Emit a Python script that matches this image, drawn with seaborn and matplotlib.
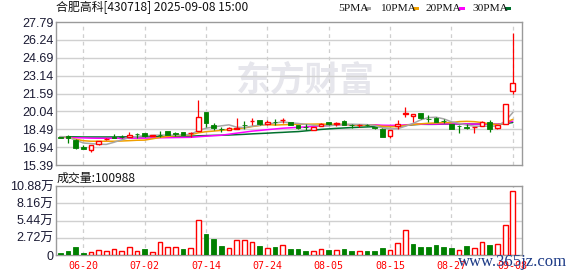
import numpy as np
import pandas as pd
import matplotlib
matplotlib.use("Agg")
import matplotlib.pyplot as plt
from matplotlib.patches import Rectangle
import seaborn as sns

# ---------------- data ----------------
title = "合肥高科[430718] 2025-09-08 15:00"
vol_title = "成交量:100988"

dates = ["06-17", "06-18", "06-19", "06-20", "06-23", "06-24", "06-25", "06-26", "06-27", "06-30",
         "07-01", "07-02", "07-03", "07-04", "07-07", "07-08", "07-09", "07-10", "07-11", "07-14",
         "07-15", "07-16", "07-17", "07-18", "07-21", "07-22", "07-23", "07-24", "07-25", "07-28",
         "07-29", "07-30", "07-31", "08-01", "08-04", "08-05", "08-06", "08-07", "08-08", "08-11",
         "08-12", "08-13", "08-14", "08-15", "08-18", "08-19", "08-20", "08-21", "08-22", "08-25",
         "08-26", "08-27", "08-28", "08-29", "09-01", "09-02", "09-03", "09-04", "09-05", "09-08"]

open_ = [17.78, 17.94, 17.60, 16.92, 16.73, 17.25, 17.62, 17.78, 17.85, 17.83,
         18.12, 18.14, 17.93, 18.00, 18.32, 18.13, 18.23, 18.15, 18.35, 20.00,
         18.87, 18.52, 18.46, 18.55, 18.88, 19.20, 19.27, 18.92, 19.10, 19.26,
         19.15, 18.87, 18.71, 18.46, 18.81, 19.15, 18.97, 19.20, 18.88, 18.85,
         18.87, 18.65, 18.55, 17.91, 18.75, 19.79, 19.67, 19.87, 19.38, 19.50,
         19.23, 18.92, 18.77, 18.65, 18.68, 18.78, 19.15, 18.63, 18.98, 21.80]
high = [17.82, 17.96, 17.68, 17.10, 17.12, 17.50, 17.70, 18.11, 18.00, 18.29,
        18.13, 18.15, 17.97, 18.34, 18.33, 18.26, 18.24, 18.21, 21.00, 20.02,
        19.07, 18.69, 18.66, 19.44, 19.21, 19.44, 19.28, 19.27, 19.36, 19.44,
        19.16, 18.88, 18.92, 18.72, 19.00, 19.16, 19.10, 19.32, 18.98, 18.98,
        18.98, 18.68, 18.57, 18.42, 19.27, 20.43, 19.82, 19.88, 19.73, 19.52,
        19.36, 18.93, 18.87, 18.92, 18.70, 19.20, 19.27, 18.88, 20.68, 26.87]
low = [17.70, 17.33, 16.80, 16.74, 16.56, 17.13, 17.58, 17.70, 17.75, 17.80,
       17.77, 17.85, 17.92, 17.83, 17.95, 17.94, 17.98, 17.83, 18.30, 18.72,
       18.40, 18.29, 18.43, 18.53, 18.55, 18.84, 18.90, 18.90, 18.84, 19.00,
       18.85, 18.55, 18.43, 18.44, 18.78, 18.85, 18.78, 18.85, 18.63, 18.69,
       18.73, 18.55, 17.83, 17.77, 18.52, 19.56, 19.15, 19.40, 19.15, 19.10,
       19.07, 18.50, 18.20, 18.55, 18.17, 18.75, 18.29, 18.49, 18.95, 21.56]
close = [17.75, 17.77, 16.84, 16.77, 17.10, 17.48, 17.68, 17.76, 17.83, 18.03,
         18.10, 17.88, 17.95, 17.98, 17.97, 18.10, 18.00, 18.20, 19.59, 19.01,
         18.63, 18.50, 18.63, 18.58, 18.85, 19.23, 18.92, 19.09, 19.08, 19.29,
         18.87, 18.64, 18.69, 18.69, 18.98, 18.92, 19.00, 18.87, 18.86, 18.88,
         18.85, 18.62, 17.85, 18.40, 18.98, 19.93, 19.79, 19.44, 19.35, 19.16,
         19.21, 18.52, 18.74, 18.63, 18.70, 19.15, 18.55, 18.86, 20.66, 22.49]
volume = [3700, 6300, 13100, 3700, 4700, 7900, 6300, 9500, 6300, 12600,
          6300, 9500, 4200, 20500, 12600, 12600, 9500, 11000, 55200, 33100,
          25800, 14200, 11000, 23700, 23700, 20000, 14200, 11000, 13100, 15800,
          9500, 9500, 6300, 5800, 8900, 7900, 7400, 9500, 6300, 5800,
          6300, 6300, 11000, 7400, 18400, 38900, 17300, 13100, 13100, 15800,
          13100, 11600, 7400, 14200, 11000, 20500, 15800, 17300, 46800, 100988]
# volume bar colour: R = up, G = down
vol_dir = "GGGGRRRRRRRGRRRRGRRGGGRRRRGRGRGGGRRGRGGRGGGRRRGGGGGGRGRRGRRR"

# moving-average values at the start of the window (they depend on earlier,
# unseen sessions)
ma5_head = [17.85, 17.82, 17.55, 17.30]
ma10_head = [17.83, 17.80, 17.62, 17.50, 17.45, 17.45, 17.45, 17.45, 17.47]
ma20_head = [17.78, 17.77, 17.75, 17.74, 17.72, 17.71, 17.71, 17.71, 17.71, 17.71,
             17.72, 17.72, 17.73, 17.75, 17.76, 17.77, 17.78, 17.79, 17.84]
ma30_head = [17.84, 17.84, 17.83, 17.82, 17.82, 17.82, 17.82, 17.82, 17.83, 17.83,
             17.84, 17.84, 17.85, 17.86, 17.87, 17.88, 17.89, 17.89, 17.92, 17.94,
             17.96, 17.97, 17.99, 18.02, 18.05, 18.09, 18.12, 18.15, 18.19]

tick_labels = ["06-20", "07-02", "07-14", "07-24", "08-05", "08-15", "08-27", "09-08"]
price_ticks = [15.39, 16.94, 18.49, 20.04, 21.59, 23.14, 24.69, 26.24, 27.79]
vol_ticks = [0, 27200, 54400, 81600, 108800]
vol_tick_labels = ["0", "2.72万", "5.44万", "8.16万", "10.88万"]
ma_windows = [5, 10, 20, 30]
ma_heads = [ma5_head, ma10_head, ma20_head, ma30_head]
ma_names = ["5PMA", "10PMA", "20PMA", "30PMA"]
ma_colors = ["#a6a6a6", "#f0a000", "#ff00ff", "#00702e"]

# ---------------- style ----------------
sns.set_theme(style="white")
plt.rcParams["font.family"] = ["Liberation Sans", "Noto Sans CJK SC", "DejaVu Sans"]

RED = "#ff0000"
GREEN = "#008000"
GRID = "#d0d0d0"
FRAME = "#9a9a9a"
TXT = "#1a1a33"

W, H = 578, 276
fig = plt.figure(figsize=(W / 100, H / 100), dpi=100)
fig.patch.set_facecolor("white")


def fx(px):
    return px / W


def fy(py):
    return 1 - py / H


ax = fig.add_axes([fx(56), fy(165), fx(522) - fx(56), fy(22) - fy(165)])
axv = fig.add_axes([fx(56), fy(255), fx(522) - fx(56), fy(186) - fy(255)])

n = len(close)
idx = np.arange(n)
xlim = (-0.55, n + 0.2)
tick_pos = [dates.index(t) for t in tick_labels]

df = pd.DataFrame({"i": idx, "date": dates, "open": open_, "high": high,
                   "low": low, "close": close, "volume": volume})

# watermark
ax.text(fx(305), fy(80), "东方财富", transform=fig.transFigure, fontsize=25,
        fontweight="bold", color="#e6e6ec", ha="center", va="center",
        family=["Noto Sans CJK SC"], zorder=0, clip_on=False)

# ---------------- frames & grids ----------------
for axx in (ax, axv):
    axx.set_xlim(*xlim)
    for s in axx.spines.values():
        s.set_color(FRAME)
        s.set_linewidth(1)
    axx.tick_params(length=0)
    for p in tick_pos:
        axx.axvline(p, color="#cfcfcf", lw=0.9, ls=(0, (3, 3)), zorder=0.5)

# ---------------- price panel ----------------
ax.set_ylim(price_ticks[0], price_ticks[-1])
ax.set_yticks(price_ticks)
ax.set_yticklabels([f"{v:.2f}" for v in price_ticks], fontsize=9, color=TXT)
ax.tick_params(axis="y", pad=2)
ax.set_xticks([])
for v in price_ticks[1:-1]:
    ax.axhline(v, color=GRID, lw=1, zorder=0.6)

# moving averages
ma_frames = []
for w, head, name in zip(ma_windows, ma_heads, ma_names):
    vals = df["close"].rolling(w).mean().to_numpy()
    vals[:len(head)] = head
    ma_frames.append(pd.DataFrame({"i": idx, "value": vals, "name": name}))
ma_df = pd.concat(ma_frames, ignore_index=True)
sns.lineplot(data=ma_df, x="i", y="value", hue="name", hue_order=ma_names[::-1],
             palette=dict(zip(ma_names, ma_colors)), linewidth=1.1, legend=False,
             ax=ax, zorder=2)
ax.set_xlabel("")
ax.set_ylabel("")

# candles
bw = 0.62
for r in df.itertuples():
    up = r.close >= r.open
    c = RED if up else GREEN
    top, bot = max(r.open, r.close), min(r.open, r.close)
    ax.vlines(r.i, top, r.high, color=c, lw=0.9, zorder=3)
    ax.vlines(r.i, r.low, bot, color=c, lw=0.9, zorder=3)
    h = max(top - bot, 0.02)
    if up:
        ax.add_patch(Rectangle((r.i - bw / 2, bot), bw, h, facecolor="white",
                               edgecolor=c, lw=1.0, zorder=4))
    else:
        ax.add_patch(Rectangle((r.i - bw / 2, bot), bw, h, facecolor=c,
                               edgecolor=c, lw=0.6, zorder=4))

# ---------------- volume panel ----------------
axv.set_ylim(0, vol_ticks[-1])
axv.set_yticks(vol_ticks)
axv.set_yticklabels(vol_tick_labels, fontsize=9, color=TXT)
axv.tick_params(axis="y", pad=2)
for v in vol_ticks[1:-1]:
    axv.axhline(v, color=GRID, lw=1, zorder=0.6)
for i, (v, d) in enumerate(zip(volume, vol_dir)):
    if d == "R":
        axv.bar(i, v, width=bw, facecolor="white", edgecolor=RED, lw=1.0, zorder=3)
    else:
        axv.bar(i, v, width=bw, facecolor=GREEN, edgecolor=GREEN, lw=0.6, zorder=3)
axv.set_xticks(tick_pos)
axv.set_xticklabels(tick_labels, fontsize=7.2, color=RED, family=["DejaVu Sans Mono"])
axv.tick_params(axis="x", pad=4)

# ---------------- texts ----------------
fig.text(fx(56), fy(8), title, fontsize=8.6, color="#111111", ha="left", va="center",
         family=["Noto Sans CJK SC", "DejaVu Sans"])
fig.text(fx(57), fy(178), vol_title, fontsize=8.6, color="#111111", ha="left", va="center",
         family=["Noto Sans CJK SC", "DejaVu Sans"])

leg_x = [338, 380, 425, 472]
sq_x = [365, 413, 459, 505]
for name, col, lx, sx in zip(ma_names, ma_colors, leg_x, sq_x):
    fig.text(fx(lx), fy(8.5), name, fontsize=8.2, color="#111111", ha="left", va="center",
             family=["Liberation Serif"])
    fig.patches.append(Rectangle((fx(sx), fy(10)), 6 / W, 3 / H, transform=fig.transFigure,
                                 facecolor=col, edgecolor="none", figure=fig))

fig.text(fx(513), fy(262), "www.365jz.com", fontsize=12, color="#1c3a86", ha="center",
         va="center", family=["Liberation Serif"], zorder=10)

fig.savefig("out.png", dpi=100, facecolor="white")
